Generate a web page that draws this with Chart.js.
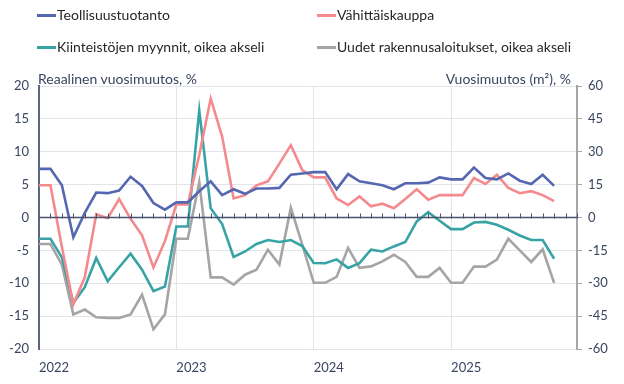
<!DOCTYPE html>
<html>
<head>
<meta charset="utf-8">
<script src="https://cdn.jsdelivr.net/npm/chart.js@4.4.1/dist/chart.umd.min.js"></script>
<style>
    html, body { margin: 0; padding: 0; background: #fff; }
    #wrap { position: relative; width: 624px; height: 384px; font-family: Lato, sans-serif; }
    canvas { position: absolute; left: 0; top: 0; }
    .leg { position: absolute; font-size: 14px; color: #262626; white-space: nowrap; line-height: 16px; }
    .leg i { display: inline-block; width: 19px; height: 3px; vertical-align: middle; margin-right: 1px; position: relative; top: -1px; }
    .title { position: absolute; font-size: 14px; color: #3a4560; white-space: nowrap; top: 70px; }
</style>
</head>
<body>
<div id="wrap">
    <canvas id="chart" width="624" height="384"></canvas>
    <div class="leg" style="left:37px; top:7px"><i style="background:#5567b0"></i>Teollisuustuotanto</div>
    <div class="leg" style="left:317px; top:7px"><i style="background:#f58a8e"></i>Vähittäiskauppa</div>
    <div class="leg" style="left:37px; top:39px"><i style="background:#38a3a5"></i>Kiinteistöjen myynnit, oikea akseli</div>
    <div class="leg" style="left:317px; top:39px"><i style="background:#a5a5a5"></i>Uudet rakennusaloitukset, oikea akseli</div>
    <div class="title" style="left:38px">Reaalinen vuosimuutos, %</div>
    <div class="title" style="right:53px">Vuosimuutos (m²), %</div>
</div>
<script>
// Months Jan 2022 .. Dec 2025
const months = [];
for (let y = 2022; y <= 2025; y++) {
    for (let m = 1; m <= 12; m++) months.push(y + '-' + String(m).padStart(2, '0'));
}

// Left axis, %
const teollisuus = [7.4, 7.4, 4.9, -3.0, 0.7, 3.8, 3.7, 4.1, 6.2, 4.8, 2.2, 1.2,
    2.3, 2.3, 4.0, 5.5, 3.4, 4.3, 3.6, 4.4, 4.4, 4.5, 6.5, 6.7,
    6.9, 6.9, 4.3, 6.6, 5.5, 5.2, 4.9, 4.3, 5.2, 5.2, 5.3, 6.1,
    5.8, 5.8, 7.6, 6.0, 5.8, 6.7, 5.6, 5.1, 6.5, 4.8];
const vahittais = [4.9, 4.9, -4.5, -13.2, -9.1, 0.5, -0.1, 2.8, -0.2, -2.7, -7.6, -3.6,
    2.0, 2.0, 9.5, 18.1, 12.3, 2.9, 3.4, 4.9, 5.5, 8.2, 11.0, 7.2,
    6.1, 6.1, 2.9, 1.9, 3.2, 1.7, 2.1, 1.4, 2.8, 4.3, 2.7, 3.4,
    3.4, 3.4, 6.0, 5.1, 6.5, 4.5, 3.7, 4.0, 3.4, 2.5];

// Right axis, %
const kiinteistot = [-9.7, -9.7, -18.2, -39.0, -31.8, -18.5, -29.1, -22.7, -16.5, -23.8, -33.6, -31.5,
    -4.1, -4.1, 48.9, 4.2, -3.0, -18.0, -15.5, -12.1, -10.3, -11.2, -10.3, -13.0,
    -20.8, -20.9, -19.1, -23.0, -20.8, -14.7, -15.5, -13.2, -11.2, -1.8, 2.4, -1.5,
    -5.3, -5.3, -2.3, -2.0, -3.3, -5.6, -8.2, -10.3, -10.3, -18.8];
const rakennus = [-12.1, -12.1, -21.5, -44.2, -42.0, -45.5, -45.8, -45.8, -44.2, -35.2, -51.0, -44.2,
    -9.7, -9.7, 16.1, -27.3, -27.3, -30.6, -26.1, -23.8, -14.7, -21.5, 4.5, -12.4,
    -29.8, -29.8, -27.1, -13.9, -23.0, -22.3, -20.0, -17.0, -20.3, -27.1, -27.1, -23.0,
    -29.8, -29.8, -22.4, -22.4, -19.2, -9.7, -15.0, -20.3, -14.5, -29.8];

const tickColor = '#3a4560';
const gridColor = '#e3e5ea';

// zero line with monthly tick marks
const zeroLine = {
    id: 'zeroLine',
    afterDatasetsDraw(chart) {
        const { ctx, chartArea, scales } = chart;
        const y0 = scales.y.getPixelForValue(0);
        ctx.save();
        ctx.strokeStyle = '#4a5270';
        ctx.lineWidth = 1.5;
        ctx.beginPath();
        ctx.moveTo(chartArea.left, y0);
        ctx.lineTo(chartArea.right, y0);
        ctx.stroke();
        ctx.lineWidth = 1;
        ctx.beginPath();
        for (let i = 1; i < months.length; i++) {
            const x = Math.round(scales.x.getPixelForValue(i)) + 0.5;
            ctx.moveTo(x, y0 - 4);
            ctx.lineTo(x, y0 + 1);
        }
        ctx.stroke();
        ctx.restore();
    }
};

function line(label, data, color, axis) {
    return {
        label: label,
        data: data,
        borderColor: color,
        backgroundColor: color,
        borderWidth: 2.6,
        pointRadius: 0,
        tension: 0,
        yAxisID: axis
    };
}

new Chart(document.getElementById('chart'), {
    type: 'line',
    data: {
        labels: months,
        datasets: [
            line('Teollisuustuotanto', teollisuus, '#5567b0', 'y'),
            line('Vähittäiskauppa', vahittais, '#f58a8e', 'y'),
            line('Kiinteistöjen myynnit, oikea akseli', kiinteistot, '#38a3a5', 'y2'),
            line('Uudet rakennusaloitukset, oikea akseli', rakennus, '#a5a5a5', 'y2')
        ]
    },
    options: {
        responsive: false,
        animation: false,
        layout: { padding: { top: 86, left: 0, right: 0, bottom: 0 } },
        plugins: {
            legend: { display: false },
            tooltip: { enabled: false }
        },
        scales: {
            x: {
                offset: false,
                afterFit(scale) { scale.height = 35; },
                grid: {
                    drawTicks: false,
                    color: ctx => (ctx.index % 12 === 0 && ctx.index > 0) ? gridColor : 'rgba(0,0,0,0)'
                },
                border: { display: false },
                ticks: {
                    autoSkip: false,
                    maxRotation: 0,
                    align: 'start',
                    padding: 11,
                    color: tickColor,
                    font: { family: 'Lato', size: 13 },
                    callback: function(value, index) {
                        return index % 12 === 0 ? months[index].slice(0, 4) : '';
                    }
                }
            },
            y: {
                position: 'left',
                min: -20,
                max: 20,
                afterFit(scale) { scale.width = 39; },
                grid: {
                    drawTicks: false,
                    color: ctx => ctx.tick.value === 0 ? 'rgba(0,0,0,0)' : gridColor
                },
                border: { color: '#5c6584', width: 2 },
                ticks: {
                    stepSize: 5,
                    padding: 10,
                    color: tickColor,
                    font: { family: 'Lato', size: 13 }
                }
            },
            y2: {
                position: 'right',
                min: -60,
                max: 60,
                afterFit(scale) { scale.width = 47; },
                grid: {
                    drawOnChartArea: false,
                    drawTicks: true,
                    tickLength: 5,
                    color: '#a6a6a6'
                },
                border: { color: '#a6a6a6', width: 2 },
                ticks: {
                    stepSize: 15,
                    padding: 6,
                    color: tickColor,
                    font: { family: 'Lato', size: 13 }
                }
            }
        }
    },
    plugins: [zeroLine]
});
</script>
</body>
</html>
